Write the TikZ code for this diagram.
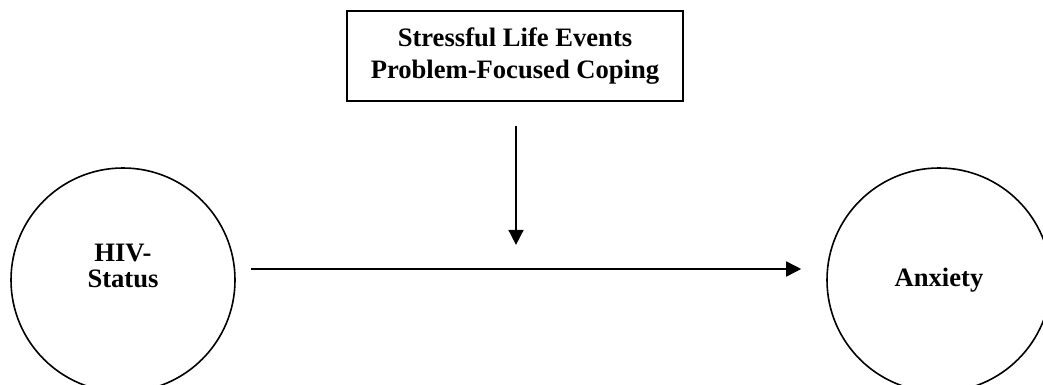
\documentclass[tikz,border=0pt]{standalone}
\usepackage{fontspec}
\setmainfont{Liberation Serif}
\usetikzlibrary{arrows.meta}

\begin{document}
\begin{tikzpicture}[x=0.5pt, y=-0.5pt,
    every node/.style={font=\fontsize{13.3}{16}\selectfont\bfseries, align=center},
    modbox/.style={draw, line width=0.9pt, minimum width=168pt, minimum height=45pt, inner sep=0pt},
    var/.style={draw, circle, line width=0.8pt, minimum size=112pt, inner sep=0pt},
    arr/.style={line width=0.8pt, -{Triangle[length=7.5pt, width=7.5pt]}}]

\useasboundingbox (0,0) rectangle (1043,385);

\node[modbox] (mod) at (515,56) {Stressful Life Events\\Problem-Focused Coping};
\node[var] (hiv) at (123,280) {};
\node[font=\fontsize{13.3}{13}\selectfont\bfseries] (hivtext) at ([yshift=7pt]hiv.center) {HIV-\\Status};
\node[var] (anx) at (939,280) {Anxiety};

\draw[arr] ([shift={(7.5pt,5.5pt)}]hiv.east) -- ([shift={(-12.5pt,5.5pt)}]anx.west);
\draw[arr] ([shift={(0.5pt,-12pt)}]mod.south) -- ([shift={(0.5pt,-71.5pt)}]mod.south);

\end{tikzpicture}
\end{document}
